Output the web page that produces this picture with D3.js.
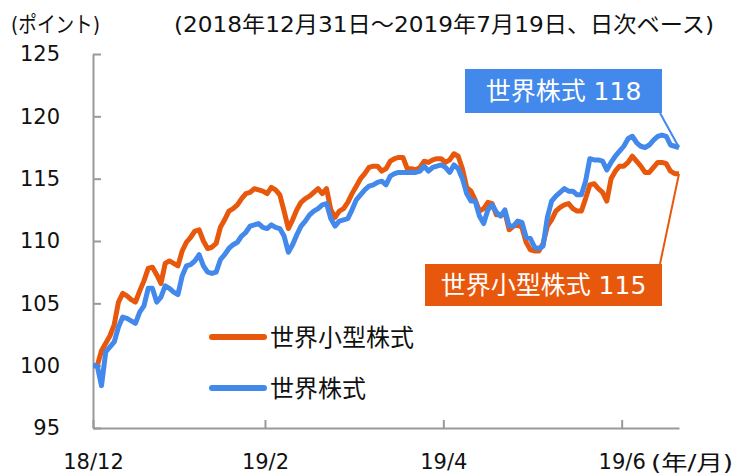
<!DOCTYPE html>
<html>
<head>
<meta charset="utf-8">
<script src="https://cdn.jsdelivr.net/npm/d3@7"></script>
<style>
  body { margin: 0; background: #fff; }
  svg text { font-family: "DejaVu Sans", "Noto Sans CJK JP", sans-serif; fill: #111; }
</style>
</head>
<body>
<svg id="chart" width="737" height="475"></svg>
<script>
// trading days 2018/12/31 - 2019/7/19 (index)
const world = [
  100.0, 100.0, 98.4, 101.1, 101.5, 101.9, 103.1, 103.9, 103.8, 103.6,
  103.4, 104.3, 104.8, 106.2, 106.2, 105.1, 105.5, 106.4, 106.2, 105.9,
  105.7, 107.2, 108.0, 108.1, 108.4, 108.9, 108.0, 107.5, 107.4, 107.5,
  108.5, 108.9, 109.4, 109.7, 109.9, 110.4, 110.7, 111.2, 111.3, 111.4,
  111.1, 111.0, 111.3, 111.1, 111.0, 110.4, 109.1, 109.7, 110.5, 111.2,
  111.6, 112.1, 112.4, 112.6, 112.9, 113.0, 111.8, 111.2, 111.6, 111.7,
  111.8, 112.5, 113.3, 113.7, 114.1, 114.4, 114.5, 114.7, 114.8, 114.5,
  115.2, 115.4, 115.5, 115.5, 115.5, 115.5, 115.5, 115.6, 116.0, 115.6,
  115.9, 116.0, 116.1, 115.9, 115.5, 116.1, 115.8, 115.0, 113.8, 113.2,
  113.2, 112.0, 111.4, 112.5, 112.9, 112.3, 112.0, 112.5, 111.2, 111.2,
  111.6, 111.5, 110.3, 110.2, 109.5, 109.4, 109.6, 111.9, 113.2, 113.6,
  113.9, 114.2, 114.0, 114.0, 113.7, 113.7, 114.8, 116.6, 116.5, 116.5,
  116.4, 115.7, 116.3, 116.8, 117.2, 117.6, 118.2, 118.4, 117.9, 117.6,
  117.5, 117.7, 118.1, 118.4, 118.5, 118.4, 117.7, 117.6, 117.5
];
const small = [
  100.0, 100.0, 101.2, 101.8, 102.4, 103.3, 105.1, 105.8, 105.6, 105.3,
  105.1, 106.0, 106.8, 107.8, 107.9, 107.3, 106.6, 108.2, 108.4, 108.2,
  108.0, 109.2, 109.9, 110.3, 110.8, 110.9, 110.0, 109.4, 109.5, 109.8,
  111.1, 111.7, 112.4, 112.6, 112.9, 113.4, 113.8, 113.9, 114.2, 114.1,
  114.0, 113.8, 114.3, 114.1, 113.7, 112.4, 111.0, 111.7, 112.5, 113.1,
  113.4, 113.6, 113.9, 114.2, 113.8, 114.2, 112.5, 111.9, 112.4, 112.6,
  113.1, 113.8, 114.4, 115.0, 115.4, 115.9, 116.0, 116.0, 115.6, 115.8,
  116.4, 116.6, 116.7, 116.7, 115.8, 115.8, 115.7, 115.9, 116.4, 116.3,
  116.5, 116.6, 116.6, 116.3, 116.5, 117.0, 116.8, 115.8, 114.3, 114.0,
  113.3, 112.4, 112.6, 113.1, 113.0, 112.1, 112.1, 112.3, 110.9, 111.2,
  111.3, 111.1, 109.9, 109.3, 109.2, 109.2, 109.8, 111.2, 111.7, 112.4,
  112.7, 112.9, 113.0, 112.6, 112.4, 112.4, 113.4, 114.5, 114.6, 114.2,
  113.9, 113.2, 115.0, 115.6, 116.0, 116.0, 116.3, 116.8, 116.4, 116.0,
  115.5, 115.5, 115.9, 116.3, 116.3, 116.2, 115.6, 115.4, 115.4
];
const yTicks = [95, 100, 105, 110, 115, 120, 125];
const xTickIdx = [0, 40.5, 82.5, 124.5];
const xTickLabels = ["18/12", "19/2", "19/4", "19/6"];
const seriesNames = ["世界小型株式", "世界株式"];

const ORANGE = "#e8580c", BLUE = "#4388eb", AXIS = "#999";

const svg = d3.select("#chart");
const x = d3.scaleLinear().domain([0, world.length - 1]).range([93, 679]);
const y = d3.scaleLinear().domain([95, 125]).range([428, 54]);

// axes
const yAxis = d3.axisLeft(y).tickValues(yTicks).tickSizeInner(-8).tickSizeOuter(0).tickPadding(33);
const gy = svg.append("g").attr("transform", "translate(93,0)").call(yAxis);
gy.selectAll("text").style("font-size", "21px").attr("fill", "#111");

const xAxis = d3.axisBottom(x).tickValues(xTickIdx).tickSizeInner(-8).tickSizeOuter(0).tickPadding(26)
  .tickFormat((d, i) => xTickLabels[i]);
const gx = svg.append("g").attr("transform", "translate(0,428)").call(xAxis);
gx.selectAll("text").style("font-size", "21px").attr("fill", "#111");

svg.selectAll(".domain, .tick line").attr("stroke", AXIS).attr("stroke-width", 2);

// lines
const line = d3.line().x((d, i) => x(i)).y(d => y(d));
svg.append("path").datum(small).attr("d", line)
  .attr("fill", "none").attr("stroke", ORANGE).attr("stroke-width", 5).attr("stroke-linejoin", "round");
svg.append("path").datum(world).attr("d", line)
  .attr("fill", "none").attr("stroke", BLUE).attr("stroke-width", 5).attr("stroke-linejoin", "round");

// titles
svg.append("text").attr("x", 11).attr("y", 32).style("font-size", "22px")
  .attr("textLength", 89).attr("lengthAdjust", "spacingAndGlyphs").text("(ポイント)");
svg.append("text").attr("x", 174).attr("y", 32).style("font-size", "22px")
  .attr("textLength", 540).attr("lengthAdjust", "spacingAndGlyphs")
  .text("(2018年12月31日～2019年7月19日、日次ベース)");
svg.append("text").attr("x", 651).attr("y", 470).style("font-size", "21px")
  .attr("textLength", 82).attr("lengthAdjust", "spacingAndGlyphs").text("(年/月)");

// legend
const leg = svg.append("g");
[[ORANGE, seriesNames[0], 337], [BLUE, seriesNames[1], 388]].forEach(([c, t, yy]) => {
  leg.append("line").attr("x1", 212).attr("x2", 264).attr("y1", yy).attr("y2", yy)
    .attr("stroke", c).attr("stroke-width", 6).attr("stroke-linecap", "round");
  leg.append("text").attr("x", 270).attr("y", yy + 9).style("font-size", "24px").text(t);
});

// end labels
const last = world.length - 1;
function callout(color, txt, bx, by, bw, bh, ax, ay, val) {
  svg.append("line").attr("x1", ax).attr("y1", ay).attr("x2", x(last)).attr("y2", y(val))
    .attr("stroke", color).attr("stroke-width", 2);
  svg.append("rect").attr("x", bx).attr("y", by).attr("width", bw).attr("height", bh).attr("fill", color);
  svg.append("text").attr("x", bx + bw / 2).attr("y", by + bh / 2 + 9).attr("text-anchor", "middle")
    .style("font-size", "25px").style("fill", "#fff").text(txt);
}
callout(BLUE, seriesNames[1] + " " + Math.round(world[last]), 465, 69, 197, 44, 660, 113, world[last]);
callout(ORANGE, seriesNames[0] + " " + Math.round(small[last]), 425, 264, 237, 42, 660, 264, small[last]);
</script>
</body>
</html>
